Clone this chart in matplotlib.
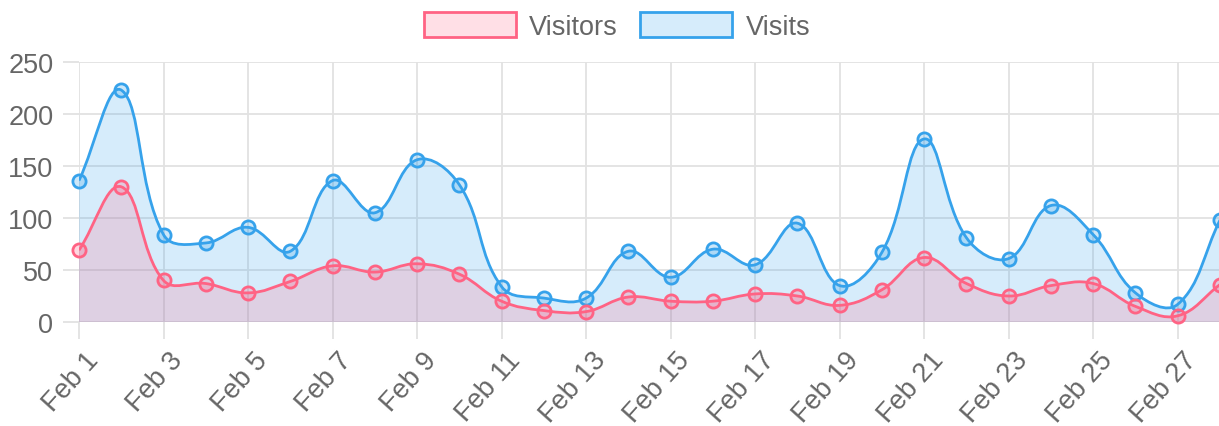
import matplotlib.pyplot as plt
import numpy as np
from matplotlib.path import Path
from matplotlib.patches import PathPatch, Patch
from matplotlib.transforms import ScaledTranslation

days = list(range(1, 29))
labels = [f"Feb {d}" for d in days]
visitors = [69, 130, 40, 37, 28, 39, 54, 48, 56, 46, 20, 11, 10, 24,
            20, 20, 27, 25, 16, 31, 62, 37, 25, 35, 37, 15, 6, 36]
visits = [136, 223, 84, 76, 91, 68, 136, 105, 156, 132, 34, 23, 23, 68,
          43, 70, 55, 95, 35, 67, 176, 81, 61, 112, 84, 28, 17, 98]

RED = (255 / 255, 99 / 255, 132 / 255)
BLUE = (54 / 255, 162 / 255, 235 / 255)
GRID = '#e2e2e2'
TEXT = '#666666'
plt.rcParams['font.family'] = ['Liberation Sans', 'DejaVu Sans']

W, H = 1219, 427
fig = plt.figure(figsize=(W / 100, H / 100), dpi=100)
ax = fig.add_axes([79 / W, 104 / H, 1141 / W, 260 / H])
ax.set_xlim(1, 28)
ax.set_ylim(0, 250)
px_x = 1141 / 27
px_y = 260 / 250


def spline(x, y, t=0.4):
    # chart.js-like bezier, control points worked out in pixel space
    X = np.asarray(x, float) * px_x
    Y = np.asarray(y, float) * px_y
    n = len(X)
    cprev = np.zeros((n, 2))
    cnext = np.zeros((n, 2))
    for i in range(n):
        a = max(i - 1, 0)
        b = min(i + 1, n - 1)
        d01 = np.hypot(X[i] - X[a], Y[i] - Y[a])
        d12 = np.hypot(X[b] - X[i], Y[b] - Y[i])
        s = d01 + d12
        fa = t * (d01 / s if s else 0)
        fb = t * (d12 / s if s else 0)
        dx, dy = X[b] - X[a], Y[b] - Y[a]
        cprev[i] = (X[i] - fa * dx, Y[i] - fa * dy)
        cnext[i] = (X[i] + fb * dx, Y[i] + fb * dy)
    scale = np.array([px_x, px_y])
    cprev /= scale
    cnext /= scale
    cprev[:, 1] = cprev[:, 1].clip(0, 250)
    cnext[:, 1] = cnext[:, 1].clip(0, 250)
    verts = [(x[0], y[0])]
    codes = [Path.MOVETO]
    for i in range(1, n):
        verts += [tuple(cnext[i - 1]), tuple(cprev[i]), (x[i], y[i])]
        codes += [Path.CURVE4] * 3
    return verts, codes


def draw_series(values, color, fill_only=False):
    verts, codes = spline(days, values)
    if fill_only:
        fv = verts + [(days[-1], 0), (days[0], 0), (days[0], 0)]
        fc = codes + [Path.LINETO, Path.LINETO, Path.CLOSEPOLY]
        ax.add_patch(PathPatch(Path(fv, fc), facecolor=(*color, 0.2),
                               edgecolor='none', zorder=2))
        return
    ax.add_patch(PathPatch(Path(verts, codes), facecolor='none',
                           edgecolor=color, linewidth=2.0, zorder=3))
    ax.plot(days, values, linestyle='none', marker='o', markersize=9.5,
            markerfacecolor=(*color, 0.25), markeredgecolor=color,
            markeredgewidth=2.0, zorder=4, clip_on=False)


draw_series(visits, BLUE, fill_only=True)
draw_series(visitors, RED, fill_only=True)
draw_series(visits, BLUE)
draw_series(visitors, RED)

ax.set_xticks(days[::2])
ax.set_xticklabels(labels[::2], rotation=48, ha='right', va='center',
                   rotation_mode='anchor')
ax.set_yticks(range(0, 251, 50))
ax.tick_params(axis='x', length=12.2, width=1.3, color=GRID, pad=12,
               labelsize=19.5, labelcolor=TEXT)
ax.tick_params(axis='y', length=11.5, width=1.3, color=GRID, pad=7,
               labelsize=19.5, labelcolor=TEXT)
# rotated labels sit a little right of their ticks, like chart.js
shift = ScaledTranslation(15 / 100, 0, fig.dpi_scale_trans)
for lab in ax.get_xticklabels():
    lab.set_transform(lab.get_transform() + shift)
ax.grid(True, color=GRID, linewidth=1.3)
ax.set_axisbelow(True)
for s in ax.spines.values():
    s.set_visible(False)

handles = [Patch(facecolor=(*RED, 0.2), edgecolor=RED, linewidth=2, label='Visitors'),
           Patch(facecolor=(*BLUE, 0.2), edgecolor=BLUE, linewidth=2, label='Visits')]
leg = fig.legend(handles=handles, loc='center', bbox_to_anchor=(0.506, 0.937),
                 ncol=2, frameon=False, fontsize=19.5, handlelength=3.4,
                 handleheight=1.05, handletextpad=0.48, columnspacing=0.85)
for t in leg.get_texts():
    t.set_color(TEXT)

fig.savefig('out.png', dpi=100)
